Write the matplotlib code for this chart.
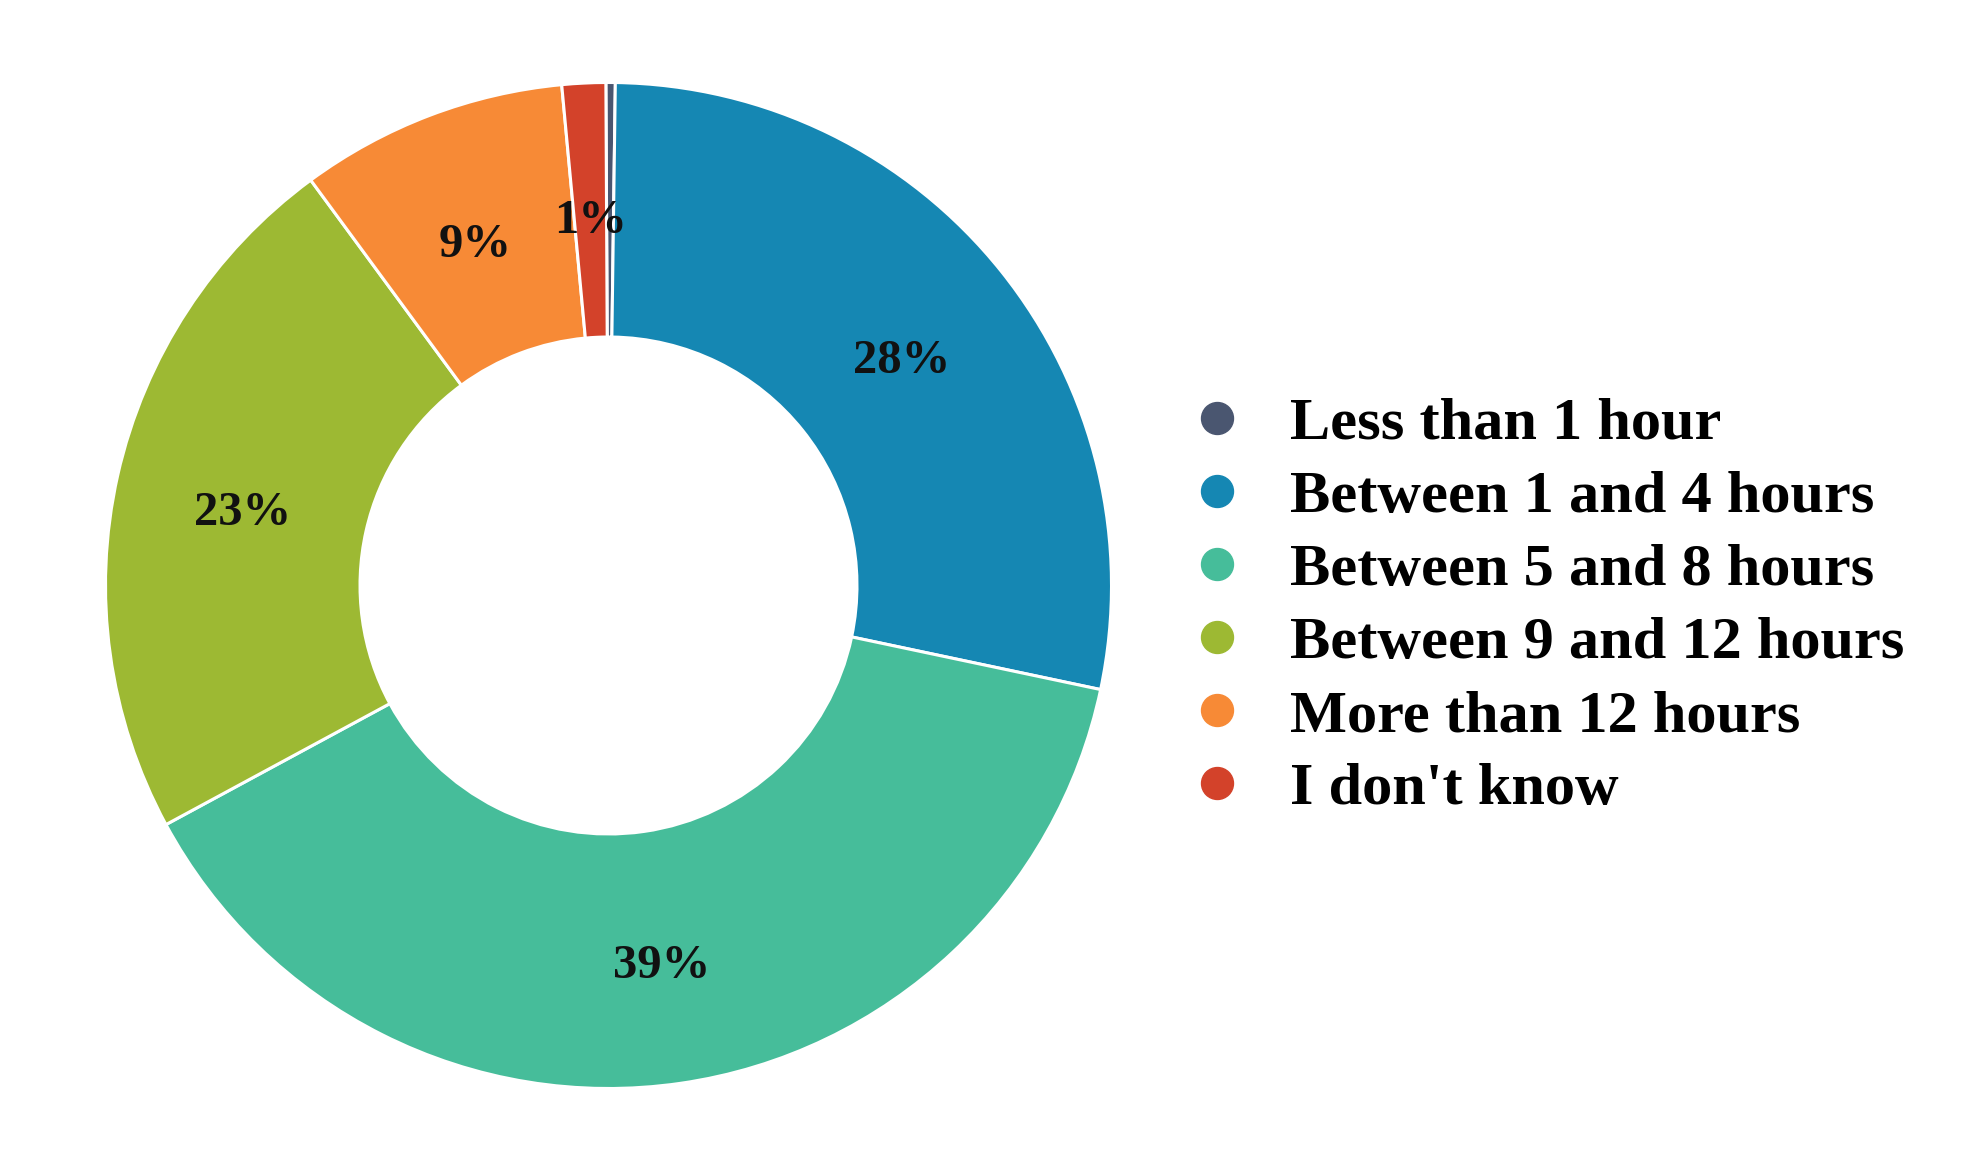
import matplotlib
matplotlib.use("Agg")
import matplotlib.pyplot as plt
from matplotlib.lines import Line2D
from matplotlib.transforms import offset_copy

# data (percent)
categories = ["Less than 1 hour", "Between 1 and 4 hours", "Between 5 and 8 hours",
              "Between 9 and 12 hours", "More than 12 hours", "I don't know"]
shares = [0.3, 28.1, 38.8, 22.8, 8.6, 1.4]
colors = ["#4a5670", "#1587b3", "#46bd9a", "#9db933", "#f78a36", "#d3422a"]

plt.rcParams["font.family"] = ["Liberation Serif", "DejaVu Serif"]
plt.rcParams["font.weight"] = "bold"

W, H = 1963, 1156
fig = plt.figure(figsize=(W / 100, H / 100), dpi=100)

cx, cy, r = 608.5, 585.5, 503
ax = fig.add_axes([(cx - r) / W, (H - cy - r) / H, 2 * r / W, 2 * r / H])

def pct(p):
    return f"{p:.0f}%" if p >= 0.5 else ""

wedges, texts, autotexts = ax.pie(
    shares, colors=colors, startangle=90.3, counterclock=False,
    radius=1.0, autopct=pct, pctdistance=0.745,
    wedgeprops=dict(width=0.506, edgecolor="white", linewidth=2.2),
    textprops=dict(fontsize=35, fontweight="bold", color="#111111"))
ax.set_xlim(-1, 1)
ax.set_ylim(-1, 1)
ax.set_aspect("equal")

# labels sit a little lower in the original
for t in autotexts:
    t.set_transform(offset_copy(ax.transData, fig=fig, x=0, y=-7, units="points"))

handles = [Line2D([0], [0], marker="o", linestyle="none", markersize=23,
                  markerfacecolor=c, markeredgecolor=c) for c in colors]
fig.legend(handles, categories, loc="center left",
           bbox_to_anchor=(1175 / W, 1 - 607 / H), frameon=False,
           prop=dict(size=43.5, weight="bold"), handlelength=0.6,
           handletextpad=0.9, labelspacing=0.295, borderaxespad=0)

fig.savefig("out.png", dpi=100, facecolor="white")
